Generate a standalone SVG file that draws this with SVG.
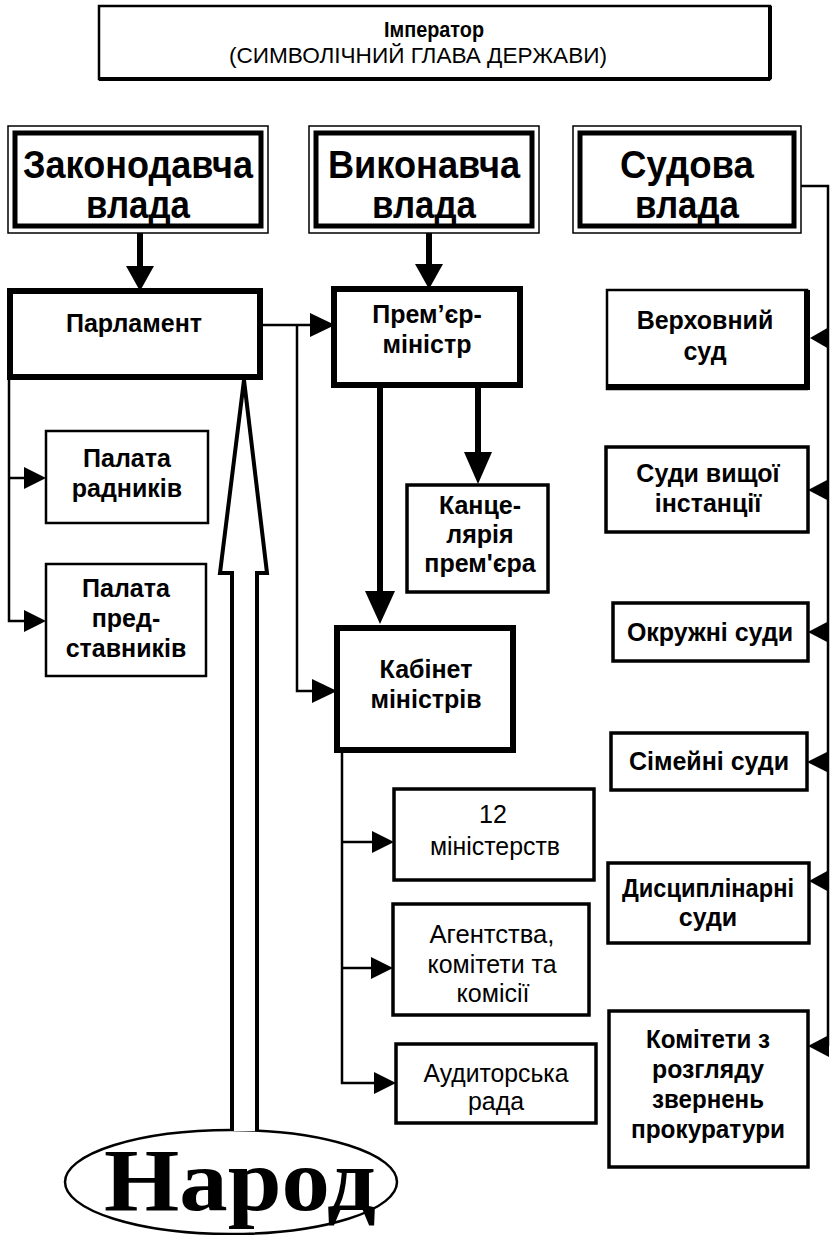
<svg xmlns="http://www.w3.org/2000/svg" width="832" height="1235" viewBox="0 0 832 1235">
<defs>
<style>
.t{font-family:"Liberation Sans",Arial,sans-serif;fill:#000;text-anchor:middle}
.b{font-weight:bold}
.s25{font-size:25px}
.r{font-size:25px}
.s34{font-size:38px;font-weight:bold}
.box{fill:#fff;stroke:#000;stroke-width:2.5}
.thick{fill:#fff;stroke:#000;stroke-width:6}
.med{fill:#fff;stroke:#000;stroke-width:3.5}
.ln{fill:none;stroke:#000;stroke-width:2.5}
.bl{fill:none;stroke:#000;stroke-width:6}
.hd{fill:#000;stroke:none}
</style>
</defs>
<rect width="832" height="1235" fill="#fff"/>

<g id="imperator">
<rect x="99" y="6" width="671" height="73" class="box"/>
<line x1="99" y1="79" x2="770" y2="79" stroke="#000" stroke-width="4"/>
<line x1="770" y1="6" x2="770" y2="79" stroke="#000" stroke-width="4"/>
<text x="434" y="37" class="t b" font-size="22" textLength="100" lengthAdjust="spacingAndGlyphs">Імператор</text>
<text x="418" y="63" class="t" font-size="22" textLength="378" lengthAdjust="spacingAndGlyphs">(СИМВОЛІЧНИЙ ГЛАВА ДЕРЖАВИ)</text>
</g>

<g id="zakonodavcha">
<rect x="8" y="126" width="260" height="107" fill="#fff" stroke="#000" stroke-width="1.5"/>
<rect x="15" y="133" width="246" height="93" fill="none" stroke="#000" stroke-width="5"/>
<text x="138" y="178" class="t s34" textLength="230" lengthAdjust="spacingAndGlyphs">Законодавча</text>
<text x="138" y="218" class="t s34" textLength="104" lengthAdjust="spacingAndGlyphs">влада</text>
</g>

<g id="vykonavcha">
<rect x="309" y="126" width="230" height="107" fill="#fff" stroke="#000" stroke-width="1.5"/>
<rect x="316" y="133" width="216" height="93" fill="none" stroke="#000" stroke-width="5"/>
<text x="424" y="178" class="t s34" textLength="192" lengthAdjust="spacingAndGlyphs">Виконавча</text>
<text x="424" y="218" class="t s34" textLength="104" lengthAdjust="spacingAndGlyphs">влада</text>
</g>

<g id="sudova">
<rect x="573" y="126" width="228" height="107" fill="#fff" stroke="#000" stroke-width="1.5"/>
<rect x="580" y="133" width="214" height="93" fill="none" stroke="#000" stroke-width="5"/>
<text x="687" y="178" class="t s34" textLength="134" lengthAdjust="spacingAndGlyphs">Судова</text>
<text x="687" y="218" class="t s34" textLength="104" lengthAdjust="spacingAndGlyphs">влада</text>
</g>

<g id="parlament">
<rect x="10" y="291" width="250" height="86" class="thick"/>
<text x="134" y="332" class="t b s25">Парламент</text>
</g>

<g id="premier">
<rect x="334" y="289" width="186" height="96" class="thick"/>
<text x="427" y="323" class="t b s25">Прем’єр-</text>
<text x="427" y="353" class="t b s25">міністр</text>
</g>

<g id="palata-radnykiv">
<rect x="46" y="431" width="162" height="92" class="box"/>
<text x="127" y="467" class="t b s25">Палата</text>
<text x="127" y="497" class="t b s25">радників</text>
</g>

<g id="palata-predstavnykiv">
<rect x="46" y="564" width="160" height="112" class="box"/>
<text x="126" y="597" class="t b s25">Палата</text>
<text x="126" y="627" class="t b s25">пред-</text>
<text x="126" y="657" class="t b s25">ставників</text>
</g>

<g id="kantselariya">
<rect x="407" y="485" width="141" height="107" class="med"/>
<text x="480" y="514" class="t b s25">Канце-</text>
<text x="480" y="543" class="t b s25">лярія</text>
<text x="480" y="572" class="t b s25">прем'єра</text>
</g>

<g id="kabinet">
<rect x="337" y="628" width="176" height="122" class="thick"/>
<text x="426" y="678" class="t b s25">Кабінет</text>
<text x="426" y="708" class="t b s25">міністрів</text>
</g>

<g id="ministerstva">
<rect x="394" y="789" width="200" height="91" class="med"/>
<text x="493" y="823" class="t r">12</text>
<text x="495" y="855" class="t r" textLength="130" lengthAdjust="spacingAndGlyphs">міністерств</text>
</g>

<g id="agentstva">
<rect x="393" y="904" width="196" height="111" class="med"/>
<text x="492" y="943" class="t r" textLength="125" lengthAdjust="spacingAndGlyphs">Агентства,</text>
<text x="492" y="973" class="t r" textLength="129" lengthAdjust="spacingAndGlyphs">комітети та</text>
<text x="493" y="1002" class="t r" textLength="73" lengthAdjust="spacingAndGlyphs">комісії</text>
</g>

<g id="audytorska">
<rect x="396" y="1044" width="200" height="79" class="med"/>
<text x="496" y="1082" class="t r" textLength="145" lengthAdjust="spacingAndGlyphs">Аудиторська</text>
<text x="496" y="1110" class="t r" textLength="56" lengthAdjust="spacingAndGlyphs">рада</text>
</g>

<g id="verkhovnyi">
<rect x="607" y="290" width="200" height="99" class="box"/>
<line x1="607" y1="387" x2="810" y2="387" stroke="#000" stroke-width="6"/>
<line x1="807" y1="290" x2="807" y2="390" stroke="#000" stroke-width="6"/>
<text x="705" y="329" class="t b s25">Верховний</text>
<text x="705" y="360" class="t b s25">суд</text>
</g>

<g id="vyshchoi">
<rect x="606" y="447" width="202" height="85" class="med"/>
<text x="708" y="482" class="t b s25">Суди вищої</text>
<text x="708" y="512" class="t b s25">інстанції</text>
</g>

<g id="okruzhni">
<rect x="613" y="603" width="195" height="58" class="med"/>
<text x="710" y="641" class="t b s25">Окружні суди</text>
</g>

<g id="simeini">
<rect x="611" y="733" width="196" height="57" class="med"/>
<text x="709" y="770" class="t b s25">Сімейні суди</text>
</g>

<g id="dystsyplinarni">
<rect x="608" y="863" width="201" height="80" class="med"/>
<text x="708" y="897" class="t b s25" textLength="172" lengthAdjust="spacingAndGlyphs">Дисциплінарні</text>
<text x="708" y="926" class="t b s25">суди</text>
</g>

<g id="komitety">
<rect x="609" y="1011" width="199" height="156" class="med"/>
<text x="708" y="1048" class="t b s25" textLength="124" lengthAdjust="spacingAndGlyphs">Комітети з</text>
<text x="708" y="1078" class="t b s25" textLength="112" lengthAdjust="spacingAndGlyphs">розгляду</text>
<text x="708" y="1108" class="t b s25" textLength="112" lengthAdjust="spacingAndGlyphs">звернень</text>
<text x="708" y="1138" class="t b s25" textLength="154" lengthAdjust="spacingAndGlyphs">прокуратури</text>
</g>

<g id="narod">
<ellipse cx="231" cy="1182" rx="166" ry="52" fill="#fff" stroke="#000" stroke-width="2.5"/>
<text x="240" y="1210" font-family="Liberation Serif,Times New Roman,serif" font-weight="bold" font-size="88" text-anchor="middle" textLength="272" lengthAdjust="spacingAndGlyphs">Народ</text>
</g>

<g id="connectors">
<line x1="140" y1="233" x2="140" y2="268" class="bl"/>
<path d="M126,266 L154,266 L140,291 z" class="hd"/>
<line x1="429" y1="233" x2="429" y2="266" class="bl"/>
<path d="M415,264 L443,264 L429,289 z" class="hd"/>
<line x1="260" y1="325" x2="313" y2="325" class="ln" stroke-width="3"/>
<path d="M310,313 L335,325 L310,337 z" class="hd"/>
<polyline points="297,325 297,691 314,691" class="ln"/>
<path d="M312,679 L337,691 L312,703 z" class="hd"/>
<polyline points="9,377 9,621 26,621" class="ln"/>
<line x1="9" y1="478" x2="26" y2="478" class="ln"/>
<path d="M24,467 L46,478 L24,489 z" class="hd"/>
<path d="M24,610 L46,621 L24,632 z" class="hd"/>
<line x1="380" y1="385" x2="380" y2="595" class="bl"/>
<path d="M365,591 L395,591 L380,624 z" class="hd"/>
<line x1="478" y1="385" x2="478" y2="456" class="bl"/>
<path d="M464,452 L492,452 L478,484 z" class="hd"/>
<polyline points="342,750 342,1083 375,1083" class="ln"/>
<line x1="342" y1="842" x2="374" y2="842" class="ln"/>
<line x1="342" y1="968" x2="373" y2="968" class="ln" stroke-width="3"/>
<path d="M372,831 L394,842 L372,853 z" class="hd"/>
<path d="M371,957 L393,968 L371,979 z" class="hd"/>
<path d="M374,1072 L396,1083 L374,1094 z" class="hd"/>
<polyline points="801,186 828,186 828,1046" class="ln"/>
<path d="M829,327 L810,338 L829,349 z" class="hd"/>
<path d="M829,479 L808,490 L829,501 z" class="hd"/>
<path d="M829,621 L808,632 L829,643 z" class="hd"/>
<path d="M829,751 L807,762 L829,773 z" class="hd"/>
<path d="M829,870 L809,881 L829,892 z" class="hd"/>
<path d="M829,1035 L808,1046 L829,1057 z" class="hd"/>
<path d="M232,1131 L232,573 L220,573 L244,380 L267,573 L257,573 L257,1131" fill="#fff" stroke="#000" stroke-width="4" stroke-linejoin="miter"/>
</g>
</svg>
